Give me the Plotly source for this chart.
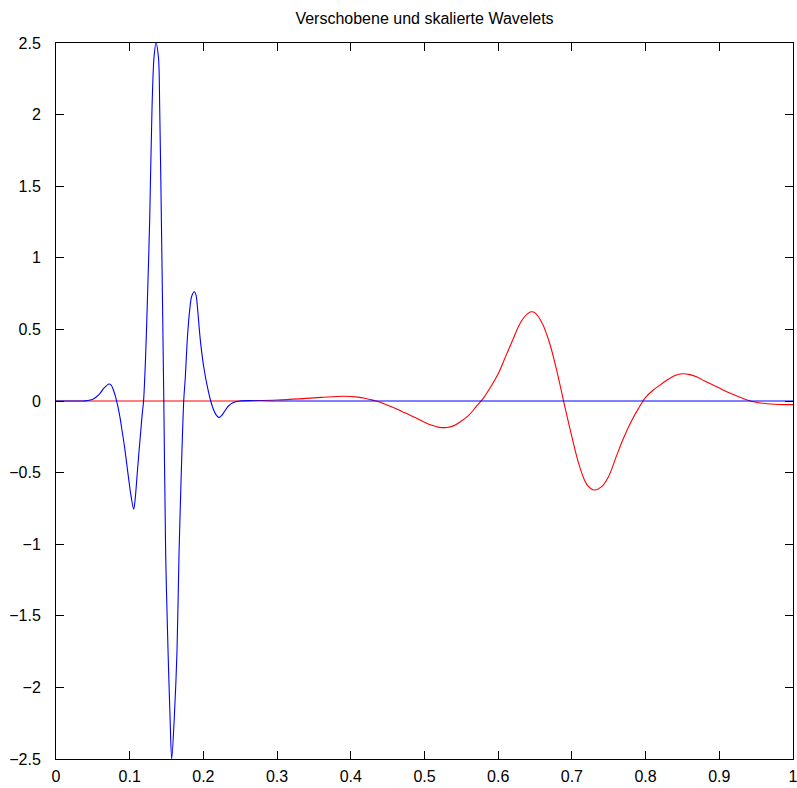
import plotly.graph_objects as go

# Blue wavelet (shifted, compressed)
blue_x = [0.0, 0.035, 0.04, 0.045, 0.05, 0.055, 0.06, 0.065, 0.0719, 0.075, 0.078, 0.081,
          0.084, 0.087, 0.090, 0.093, 0.096, 0.099, 0.102, 0.1054, 0.1075, 0.110, 0.1125,
          0.115, 0.117, 0.1188, 0.1215, 0.124, 0.1271, 0.1303, 0.1330, 0.1357, 0.1390,
          0.1407, 0.1430, 0.1463, 0.1488, 0.1520, 0.1547, 0.1570, 0.1606, 0.1642, 0.1669,
          0.170, 0.1733, 0.1755, 0.1778, 0.180, 0.1814, 0.184, 0.1878, 0.190, 0.1918,
          0.1963, 0.201, 0.2063, 0.2099, 0.213, 0.217, 0.2212, 0.225, 0.229, 0.234,
          0.240, 0.249, 0.30, 1.0]
blue_y = [0.0, 0.0, 0.001, 0.005, 0.013, 0.03, 0.055, 0.09, 0.119, 0.11, 0.075, 0.025,
          -0.04, -0.12, -0.22, -0.32, -0.44, -0.56, -0.67, -0.756, -0.68, -0.52, -0.36,
          -0.21, -0.09, 0.0, 0.30, 0.70, 1.26, 2.05, 2.40, 2.50, 2.40,
          2.05, 1.26, 0.0, -1.07, -1.74, -2.20, -2.50, -2.20, -1.74, -1.07,
          -0.50, 0.0, 0.17, 0.40, 0.56, 0.635, 0.73, 0.763, 0.74, 0.66,
          0.402, 0.22, 0.077, 0.0, -0.05, -0.095, -0.116, -0.10, -0.07, -0.035,
          -0.012, 0.0, 0.0, 0.0]

# Red wavelet (shifted, dilated)
red_x = [0.0, 0.25, 0.27, 0.30, 0.33, 0.36, 0.39, 0.41, 0.42, 0.43, 0.44, 0.45, 0.46,
         0.47, 0.48, 0.49, 0.50, 0.51, 0.52, 0.53, 0.54, 0.55, 0.56, 0.57, 0.58, 0.59,
         0.60, 0.61, 0.62, 0.63, 0.64, 0.645, 0.65, 0.66, 0.67, 0.68, 0.69, 0.70, 0.71,
         0.72, 0.73, 0.74, 0.75, 0.76, 0.77, 0.78, 0.79, 0.80, 0.81, 0.82, 0.83, 0.84,
         0.85, 0.86, 0.87, 0.88, 0.89, 0.90, 0.91, 0.92, 0.93, 0.94, 0.95, 0.96, 0.97,
         0.98, 0.99, 1.0]
red_y = [0.0, 0.0, 0.002, 0.007, 0.015, 0.025, 0.033, 0.027, 0.018, 0.006, -0.008, -0.03,
         -0.05, -0.075, -0.097, -0.122, -0.148, -0.17, -0.184, -0.185, -0.172, -0.14,
         -0.10, -0.04, 0.02, 0.10, 0.19, 0.31, 0.43, 0.545, 0.61, 0.623, 0.615, 0.54,
         0.40, 0.20, -0.03, -0.25, -0.45, -0.58, -0.621, -0.60, -0.525, -0.39, -0.26,
         -0.148, -0.055, 0.025, 0.075, 0.113, 0.15, 0.178, 0.19, 0.184, 0.167, 0.14, 0.115,
         0.09, 0.065, 0.043, 0.022, 0.003, -0.009, -0.016, -0.021, -0.024, -0.025, -0.025]

x_ticks = [0, 0.1, 0.2, 0.3, 0.4, 0.5, 0.6, 0.7, 0.8, 0.9, 1]
y_ticks = [-2.5, -2, -1.5, -1, -0.5, 0, 0.5, 1, 1.5, 2, 2.5]

fig = go.Figure()
fig.add_trace(go.Scatter(x=red_x, y=red_y, mode="lines",
                         line=dict(color="#ff0000", width=1.1, shape="spline", smoothing=1.0),
                         showlegend=False))
fig.add_trace(go.Scatter(x=blue_x, y=blue_y, mode="lines",
                         line=dict(color="#0000ff", width=1.1, shape="spline", smoothing=0.9),
                         showlegend=False))

font_family = "Liberation Sans, Arial, Helvetica, sans-serif"
fig.update_layout(
    width=797, height=788,
    margin=dict(l=56, r=4, t=43, b=29, autoexpand=False),
    paper_bgcolor="white", plot_bgcolor="white",
    font=dict(family=font_family, size=16, color="black"),
    title=dict(text="Verschobene und skalierte Wavelets", x=(56 + 793) / 2 / 797, xanchor="center",
               y=1 - 18 / 788, yanchor="middle", yref="container",
               font=dict(family=font_family, size=16, color="black")),
    showlegend=False,
)
fig.update_xaxes(range=[0, 1], tickvals=x_ticks, ticktext=[f"{v:g}" for v in x_ticks],
                 ticks="inside", ticklen=8, tickcolor="black", tickwidth=1,
                 showline=True, linecolor="black", linewidth=1, mirror="ticks",
                 showgrid=False, zeroline=False, ticklabelstandoff=3,
                 automargin=False, ticklabeloverflow="allow")
fig.update_yaxes(range=[-2.5, 2.5], tickvals=y_ticks,
                 ticktext=[f"{v:g}".replace("-", "\u2212") for v in y_ticks],
                 ticks="inside", ticklen=8, tickcolor="black", tickwidth=1,
                 showline=True, linecolor="black", linewidth=1, mirror="ticks",
                 showgrid=False, zeroline=False, ticklabelstandoff=11,
                 automargin=False, ticklabeloverflow="allow")

fig.write_html("out.html", config={"displayModeBar": False},
               post_script="document.body.style.margin='0px';document.body.style.overflow='hidden';")
